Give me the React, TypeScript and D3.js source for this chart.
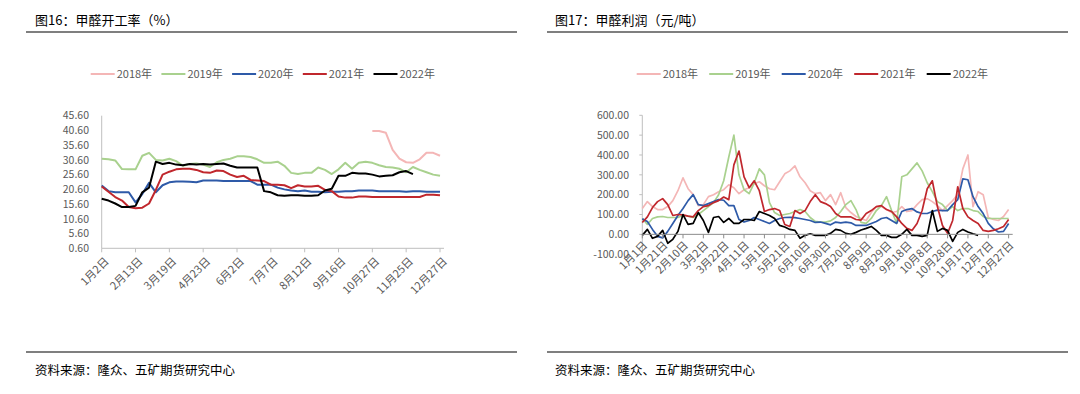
import React from "react";
import * as d3 from "d3";

// ---- data ----
const years = ["2018年", "2019年", "2020年", "2021年", "2022年"];
const colors = ["#F4B6B6", "#A9D18E", "#2E5AA8", "#C0272D", "#000000"];

// 图16 开工率 (weekly, 51 points)
const leftTickLabels = ["1月2日", "2月13日", "3月19日", "4月23日", "6月2日", "7月7日", "8月12日", "9月16日", "10月27日", "11月25日", "12月27日"];
const leftYTicks = [0.6, 5.6, 10.6, 15.6, 20.6, 25.6, 30.6, 35.6, 40.6, 45.6];
const rate2018Start = 40;
const rate2018 = [40.4, 40.4, 39.8, 34.0, 31.0, 29.8, 29.6, 30.8, 33.0, 33.0, 32.0];
const rate2019 = [31.0, 30.8, 30.4, 27.5, 27.4, 27.4, 32.0, 33.0, 30.6, 30.4, 31.0, 30.2, 28.6, 29.2, 29.4, 29.0, 28.2, 29.8, 30.6, 31.0, 31.8, 31.8, 31.6, 30.8, 29.6, 29.6, 30.0, 28.6, 26.2, 25.8, 26.2, 26.2, 28.0, 27.2, 25.8, 27.4, 29.6, 27.6, 29.6, 30.0, 29.6, 28.8, 28.2, 28.0, 27.6, 26.4, 28.2, 27.2, 26.4, 25.6, 25.2];
const rate2020 = [21.9, 20.0, 19.6, 19.6, 19.6, 16.2, 19.0, 22.8, 19.6, 22.0, 23.0, 23.3, 23.3, 23.2, 23.0, 23.6, 23.6, 23.6, 23.4, 23.4, 23.4, 23.4, 23.4, 22.2, 22.2, 22.2, 21.2, 20.6, 20.2, 20.0, 20.2, 19.8, 19.8, 19.6, 19.8, 19.8, 20.0, 20.0, 20.2, 20.2, 20.2, 20.0, 20.0, 20.0, 20.0, 19.8, 20.0, 20.0, 19.8, 19.8, 19.8];
const rate2021 = [21.6, 19.8, 18.0, 16.8, 14.6, 14.2, 14.4, 15.8, 20.4, 25.6, 26.6, 27.4, 27.6, 27.6, 27.2, 26.4, 26.2, 27.0, 26.8, 25.6, 24.8, 25.2, 23.8, 23.6, 23.4, 22.2, 22.2, 22.0, 21.0, 22.0, 21.6, 21.6, 21.8, 20.4, 20.0, 18.2, 17.8, 17.8, 18.2, 18.2, 18.0, 18.0, 18.0, 18.0, 18.0, 18.0, 18.0, 18.0, 18.8, 18.8, 18.6];
const rate2022 = [17.4, 16.8, 15.8, 14.6, 14.6, 15.0, 19.6, 21.2, 30.0, 29.2, 29.6, 29.0, 28.8, 29.2, 29.0, 29.2, 29.0, 29.2, 29.4, 28.6, 28.0, 28.0, 28.0, 28.0, 20.0, 19.6, 18.6, 18.4, 18.6, 18.6, 18.4, 18.4, 18.6, 20.2, 20.8, 25.2, 25.2, 26.2, 26.0, 26.0, 25.6, 25.0, 25.2, 25.4, 26.4, 26.8, 25.8];

// 图17 利润 (sampled every 5 days)
const SAMPLE_STEP = 5;
const rightTickLabels = ["1月1日", "1月21日", "2月10日", "3月2日", "3月22日", "4月11日", "5月1日", "5月21日", "6月10日", "6月30日", "7月20日", "8月9日", "8月29日", "9月18日", "10月8日", "10月28日", "11月17日", "12月7日", "12月27日"];
const rightYTicks = [-100, 0, 100, 200, 300, 400, 500, 600];
const profit2018 = [130, 165, 140, 125, 125, 140, 170, 220, 285, 230, 200, 145, 150, 190, 200, 215, 225, 250, 235, 205, 225, 235, 255, 265, 245, 230, 225, 265, 305, 320, 345, 290, 260, 220, 205, 210, 170, 200, 150, 210, 135, 110, 90, 80, 70, 110, 140, 140, 125, 110, 115, 140, 115, 120, 150, 175, 180, 165, 145, 120, 145, 170, 200, 330, 400, 140, 215, 200, 85, 75, 70, 90, 125];
const profit2019 = [80, 50, 80, 88, 90, 85, 85, 85, 95, 92, 85, 100, 120, 140, 160, 200, 270, 390, 500, 300, 225, 205, 260, 330, 300, 160, 110, 95, 100, 105, 115, 125, 115, 85, 65, 62, 62, 68, 85, 115, 150, 170, 125, 60, 55, 80, 120, 145, 190, 120, 55, 290, 300, 330, 360, 320, 260, 215, 165, 150, 120, 140, 120, 130, 130, 120, 115, 90, 80, 80, 80, 80, 80];
const profit2020 = [78, 65, 25, -10, -18, 15, 55, 95, 130, 170, 200, 150, 145, 155, 165, 175, 172, 145, 145, 75, 62, 70, 85, 75, 65, 55, 70, 80, 85, 86, 84, 80, 75, 70, 60, 62, 55, 48, 62, 58, 62, 58, 45, 45, 45, 55, 65, 80, 85, 70, 55, 115, 125, 130, 113, 105, 105, 115, 122, 120, 120, 150, 175, 280, 275, 190, 140, 105, 55, 28, 12, 15, 55];
const profit2021 = [60, 88, 135, 165, 180, 150, 95, 100, 98, 92, 88, 120, 140, 145, 160, 170, 188, 175, 350, 420, 290, 235, 270, 220, 115, 125, 130, 120, 50, 40, 120, 105, 120, 165, 200, 165, 155, 140, 105, 88, 88, 88, 75, 72, 105, 120, 140, 145, 125, 115, 88, 55, 30, 20, 55, 120, 230, 270, 140, 45, 5, 70, 240, 130, 88, 70, 55, 20, 15, 20, 28, 40, 75];
const profit2022 = [-5, 25, -20, -10, 20, -45, -25, 15, 100, 50, 55, 110, 70, 10, 85, 90, 60, 80, 55, 55, 75, 75, 70, 115, 105, 95, 80, 45, 37, 25, 20, -20, -5, 3, -5, -5, -5, 5, 25, 20, 5, 0, 10, 22, 30, 40, 20, -5, -5, -15, -15, 0, 25, -5, -5, -10, -5, 120, 15, 30, 20, -35, 10, 25, 12, 3, -5];

const FONT = "'Noto Sans CJK SC', 'Noto Sans', sans-serif";
const AXIS_TEXT = "#595959";
const AXIS_LINE = "#BFBFBF";
const RULE = "#7F7F7F";

function Legend({ x0, step, y }: { x0: number; step: number; y: number }) {
  return (
    <g>
      {years.map((yr, i) => (
        <g key={yr} transform={`translate(${x0 + i * step},${y})`}>
          <line x1={0} x2={24} y1={0} y2={0} stroke={colors[i]} strokeWidth={2} />
          <text x={26} y={0} dy="0.35em" fontSize={11} fill={AXIS_TEXT} fontFamily={FONT}>
            {yr}
          </text>
        </g>
      ))}
    </g>
  );
}

function LeftChart() {
  const x = d3.scaleLinear().domain([0, 50]).range([101.7, 440]);
  const y = d3.scaleLinear().domain([0.6, 45.6]).range([248.3, 115.7]);
  const line = d3
    .line<[number, number]>()
    .x((d) => x(d[0]))
    .y((d) => y(d[1]));
  const series: [number, number][][] = [
    rate2018.map((v, i) => [rate2018Start + i, v]),
    rate2019.map((v, i) => [i, v]),
    rate2020.map((v, i) => [i, v]),
    rate2021.map((v, i) => [i, v]),
    rate2022.map((v, i) => [i, v]),
  ];
  const y0 = y(0.6);
  return (
    <g>
      <line x1={x(0)} x2={x(0)} y1={y(45.6)} y2={y0} stroke={AXIS_LINE} />
      <line x1={x(0)} x2={444} y1={y0} y2={y0} stroke={AXIS_LINE} />
      {leftYTicks.map((t) => (
        <text key={t} x={89} y={y(t)} dy="0.35em" textAnchor="end" fontSize={10.5} fill={AXIS_TEXT} fontFamily={FONT}>
          {t.toFixed(2)}
        </text>
      ))}
      {leftTickLabels.map((lab, i) => {
        const tx = x(i * 5);
        return (
          <g key={lab}>
            <line x1={tx} x2={tx} y1={y0} y2={y0 + 4} stroke={AXIS_LINE} />
            <text
              transform={`translate(${tx + 5},${y0 + 11}) rotate(-45)`}
              textAnchor="end"
              dy="0.35em"
              fontSize={11}
              fill={AXIS_TEXT}
              fontFamily={FONT}
            >
              {lab}
            </text>
          </g>
        );
      })}
      {series.map((s, i) => (
        <path key={i} d={line(s) || ""} fill="none" stroke={colors[i]} strokeWidth={2} strokeLinejoin="round" />
      ))}
    </g>
  );
}

function RightChart() {
  const x = d3.scaleLinear().domain([0, 364]).range([642.3, 1012.7]);
  const y = d3.scaleLinear().domain([-100, 600]).range([254.2, 115.3]);
  const line = d3
    .line<number>()
    .x((_, i) => x(Math.min(i * SAMPLE_STEP, 364)))
    .y((d) => y(d));
  const series = [profit2018, profit2019, profit2020, profit2021, profit2022];
  const yZero = y(0);
  return (
    <g>
      <line x1={x(0)} x2={x(0)} y1={y(600)} y2={y(-100)} stroke={AXIS_LINE} />
      {rightYTicks.map((t) => (
        <g key={t}>
          <line x1={x(0) - 3} x2={x(0)} y1={y(t)} y2={y(t)} stroke={AXIS_LINE} />
          <text x={629} y={y(t)} dy="0.35em" textAnchor="end" fontSize={10.5} fill={AXIS_TEXT} fontFamily={FONT}>
            {t.toFixed(2)}
          </text>
        </g>
      ))}
      {series.map((s, i) => (
        <path key={i} d={line(s) || ""} fill="none" stroke={colors[i]} strokeWidth={1.7} strokeLinejoin="round" />
      ))}
      <line x1={x(0)} x2={x(364)} y1={yZero} y2={yZero} stroke="#8C8C8C" />
      {rightTickLabels.map((lab, i) => {
        const tx = x(i * 20);
        return (
          <g key={lab}>
            <line x1={tx} x2={tx} y1={yZero} y2={yZero + 4} stroke="#8C8C8C" />
            <text
              transform={`translate(${tx + 3},${yZero + 9}) rotate(-45)`}
              textAnchor="end"
              dy="0.35em"
              fontSize={11}
              fill={AXIS_TEXT}
              fontFamily={FONT}
            >
              {lab}
            </text>
          </g>
        );
      })}
    </g>
  );
}

export default function App() {
  return (
    <svg width={1080} height={394} style={{ position: "absolute", left: 0, top: 0, background: "#fff" }}>
      <rect width={1080} height={394} fill="#fff" />
      {/* headers */}
      <text x={35} y={20} dy="0.35em" fontSize={13} fill="#000" fontFamily={FONT}>
        图16：甲醛开工率（%）
      </text>
      <text x={555} y={20} dy="0.35em" fontSize={13} fill="#000" fontFamily={FONT}>
        图17：甲醛利润（元/吨）
      </text>
      <line x1={26} x2={517} y1={32} y2={32} stroke={RULE} strokeWidth={2} />
      <line x1={547} x2={1068} y1={32} y2={32} stroke={RULE} strokeWidth={2} />

      <Legend x0={90.7} step={70.7} y={74} />
      <Legend x0={636.7} step={72.5} y={74} />

      <LeftChart />
      <RightChart />

      {/* footers */}
      <line x1={26} x2={517} y1={352} y2={352} stroke={RULE} strokeWidth={2} />
      <line x1={547} x2={1068} y1={352} y2={352} stroke={RULE} strokeWidth={2} />
      <text x={35} y={371} dy="0.35em" fontSize={12.5} fill="#000" fontFamily={FONT}>
        资料来源：隆众、五矿期货研究中心
      </text>
      <text x={555} y={371} dy="0.35em" fontSize={12.5} fill="#000" fontFamily={FONT}>
        资料来源：隆众、五矿期货研究中心
      </text>
    </svg>
  );
}
